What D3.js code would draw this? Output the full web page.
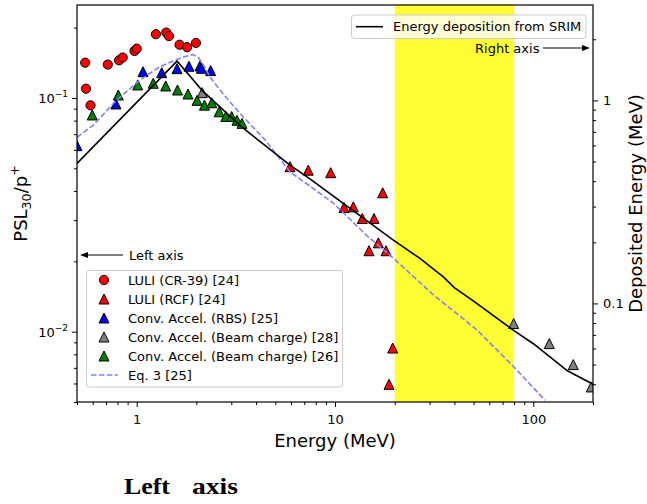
<!DOCTYPE html>
<html>
<head>
<meta charset="utf-8">
<script src="https://cdn.jsdelivr.net/npm/d3@7"></script>
<style>
body { margin: 0; background: #fff; }
svg { display: block; font-family: "DejaVu Sans", sans-serif; }
</style>
</head>
<body>
<svg id="chart" width="647" height="504"></svg>
<script>
const plot = { left: 77, right: 593, top: 5, bottom: 402 };

// LULI (CR-39) [24]
const cr39Energy = [0.55, 0.555, 0.585, 0.715, 0.815, 0.85, 0.975, 1.0, 1.25, 1.41, 1.455, 1.645, 1.795, 1.99];
const cr39Psl = [0.1416, 0.1096, 0.093, 0.139, 0.145, 0.149, 0.159, 0.1626, 0.1875, 0.1905, 0.184, 0.169, 0.165, 0.172];

// LULI (RCF) [24]
const rcfEnergy = [5.93, 7.33, 9.51, 11.1, 12.37, 13.73, 15.73, 17.4, 16.54, 14.84, 18.08, 19.54, 18.73];
const rcfPsl = [0.0508, 0.0491, 0.0479, 0.034, 0.0342, 0.0305, 0.0305, 0.0393, 0.024, 0.0222, 0.0222, 0.00851, 0.00595];

// Conv. Accel. (RBS) [25]
const rbsEnergy = [0.5, 0.786, 1.076, 1.337, 1.597, 1.835, 2.085, 2.12, 2.36];
const rbsPsl = [0.0625, 0.0943, 0.1296, 0.1283, 0.1335, 0.1367, 0.1371, 0.134, 0.131];

// Conv. Accel. (Beam charge) [28]
const bc28Energy = [2.14, 79.6, 120.4, 159, 196];
const bc28Psl = [0.1054, 0.01083, 0.00889, 0.00723, 0.0058];

// Conv. Accel. (Beam charge) [26]
const bc26Energy = [0.597, 0.808, 1.012, 1.212, 1.40, 1.606, 1.814, 2.015, 2.197, 2.392, 2.606, 2.814, 3.013, 3.205, 3.397];
const bc26Psl = [0.0846, 0.103, 0.1137, 0.1156, 0.1126, 0.1082, 0.104, 0.0977, 0.0932, 0.0954, 0.0873, 0.0833, 0.0833, 0.0803, 0.0779];

// Eq. 3 [25]
const eqEnergy = [0.5, 0.604, 0.793, 1.039, 1.31, 1.653, 1.752, 1.922, 2.038, 2.16, 2.343, 2.63, 2.954, 3.45, 4.44, 5.93, 9.77, 14.5, 19.68, 31.3, 51.8, 79.3, 114.5];
const eqPsl = [0.0679, 0.0766, 0.098, 0.1194, 0.1362, 0.148, 0.1504, 0.1534, 0.1497, 0.1397, 0.1229, 0.1082, 0.0961, 0.0829, 0.0662, 0.0483, 0.0356, 0.02572, 0.02065, 0.01439, 0.0102, 0.0071, 0.00509];

// Energy deposition from SRIM (right axis, MeV)
const srimEnergy = [0.5, 1.597, 1.857, 2.127, 3.38, 5.93, 7.63, 11.0, 19.7, 26.8, 35.2, 40.1, 49.8, 79.2, 99.7, 147, 200];
const srimDeposit = [0.4895, 1.562, 1.317, 1.124, 0.741, 0.48, 0.405, 0.311, 0.205, 0.1666, 0.1352, 0.1193, 0.103, 0.0739, 0.0635, 0.0469, 0.0400];

// shaded band (MeV)
const bandRange = [20, 80];

const xMajor = [1, 10, 100];
const xMinor = [0.5, 0.6, 0.7, 0.8, 0.9, 2, 3, 4, 5, 6, 7, 8, 9, 20, 30, 40, 50, 60, 70, 80, 90, 200];
const leftMajor = [0.01, 0.1];
const leftMajorExp = ['\u22122', '\u22121'];
const leftMinor = [0.005, 0.006, 0.007, 0.008, 0.009, 0.02, 0.03, 0.04, 0.05, 0.06, 0.07, 0.08, 0.09, 0.2];
const rightMajor = [0.1, 1];
const rightMajorLabels = ['0.1', '1'];
const rightMinor = [0.04, 0.05, 0.06, 0.07, 0.08, 0.09, 0.2, 0.3, 0.4, 0.5, 0.6, 0.7, 0.8, 0.9, 2];

var markerSeries = [
    { label: 'LULI (CR-39) [24]', energy: cr39Energy, psl: cr39Psl, shape: 'circle', color: '#ff0000' },
    { label: 'LULI (RCF) [24]', energy: rcfEnergy, psl: rcfPsl, shape: 'triangle', color: '#ff0000' },
    { label: 'Conv. Accel. (RBS) [25]', energy: rbsEnergy, psl: rbsPsl, shape: 'triangle', color: '#0000ff' },
    { label: 'Conv. Accel. (Beam charge) [28]', energy: bc28Energy, psl: bc28Psl, shape: 'triangle', color: '#808080' },
    { label: 'Conv. Accel. (Beam charge) [26]', energy: bc26Energy, psl: bc26Psl, shape: 'triangle', color: '#008000' }
];

const triPath = 'M0,-5L5,5L-5,5Z';

var svg = d3.select('#chart');

var xScale = d3.scaleLog().domain([0.5, 200]).range([plot.left, plot.right]);
var yLeft = d3.scaleLog().domain([0.005, 0.25]).range([plot.bottom, plot.top]);
var yRight = d3.scaleLog().domain([0.0327, 2.95]).range([plot.bottom, plot.top]);

svg.append('defs').append('clipPath')
    .attr('id', 'plotClip')
    .append('rect')
    .attr('x', plot.left).attr('y', plot.top)
    .attr('width', plot.right - plot.left)
    .attr('height', plot.bottom - plot.top);

// yellow band
svg.append('rect')
    .attr('x', xScale(bandRange[0]))
    .attr('y', plot.top)
    .attr('width', xScale(bandRange[1]) - xScale(bandRange[0]))
    .attr('height', plot.bottom - plot.top)
    .attr('fill', '#ffff33');

var dataLayer = svg.append('g').attr('clip-path', 'url(#plotClip)');

function drawMarker(sel, shape, color) {
    if (shape == 'circle') {
        sel.append('circle').attr('r', 4.6)
            .attr('fill', color).attr('stroke', '#000').attr('stroke-width', 1);
    } else {
        sel.append('path').attr('d', triPath)
            .attr('fill', color).attr('stroke', '#000').attr('stroke-width', 1)
            .attr('stroke-linejoin', 'miter');
    }
}

markerSeries.forEach(s => {
    dataLayer.append('g').selectAll('g')
        .data(s.energy.map((e, i) => [e, s.psl[i]]))
        .join('g')
        .attr('transform', d => 'translate(' + xScale(d[0]) + ',' + yLeft(d[1]) + ')')
        .each(function () { drawMarker(d3.select(this), s.shape, s.color); });
});

// Eq. 3 dashed line
var eqLine = d3.line().x((d, i) => xScale(eqEnergy[i])).y(d => yLeft(d));
dataLayer.append('path')
    .attr('d', eqLine(eqPsl))
    .attr('fill', 'none')
    .attr('stroke', '#8080ff')
    .attr('stroke-width', 1.6)
    .attr('stroke-dasharray', '5.5,2.4');

// axes
function tickAxis(axis, values, size) {
    return axis.tickValues(values).tickSize(size).tickFormat('');
}

var xAxisG = svg.append('g').attr('transform', 'translate(0,' + plot.bottom + ')');
xAxisG.append('g').call(tickAxis(d3.axisBottom(xScale), xMinor, 3));
xAxisG.append('g').call(d3.axisBottom(xScale).tickValues(xMajor).tickSize(5).tickPadding(7.5).tickFormat(d3.format('d')));

var yLeftG = svg.append('g').attr('transform', 'translate(' + plot.left + ',0)');
yLeftG.append('g').call(tickAxis(d3.axisLeft(yLeft), leftMinor, 3));
yLeftG.append('g').call(tickAxis(d3.axisLeft(yLeft), leftMajor, 5));
leftMajor.forEach((v, i) => {
    var t = yLeftG.append('text')
        .attr('x', -9)
        .attr('y', yLeft(v) + 5)
        .attr('text-anchor', 'end')
        .attr('font-size', 13)
        .attr('fill', '#000');
    t.append('tspan').text('10');
    t.append('tspan').attr('dy', -5.5).attr('font-size', 9).text(leftMajorExp[i]);
});

var yRightG = svg.append('g').attr('transform', 'translate(' + plot.right + ',0)');
yRightG.append('g').call(tickAxis(d3.axisRight(yRight), rightMinor, 3));
yRightG.append('g').call(d3.axisRight(yRight).tickValues(rightMajor).tickSize(5).tickPadding(5)
    .tickFormat((d, i) => rightMajorLabels[i]));

svg.selectAll('.domain').remove();
svg.selectAll('.tick line').attr('stroke', '#000').attr('stroke-width', 1);
svg.selectAll('.tick text').attr('font-size', 13).attr('fill', '#000')
    .attr('font-family', '"DejaVu Sans", sans-serif');

// lower-left legend
var legend = svg.append('g');
legend.append('rect')
    .attr('x', 86.5).attr('y', 270.5).attr('width', 256).attr('height', 116.5)
    .attr('rx', 3)
    .attr('fill', '#fff').attr('fill-opacity', 0.8)
    .attr('stroke', '#cccccc').attr('stroke-width', 1);
markerSeries.forEach((s, i) => {
    var row = legend.append('g').attr('transform', 'translate(0,' + (280 + i * 19) + ')');
    drawMarker(row.append('g').attr('transform', 'translate(104,0)'), s.shape, s.color);
    row.append('text').attr('x', 128).attr('y', 4.7).attr('font-size', 13).text(s.label);
});
var eqRow = legend.append('g').attr('transform', 'translate(0,' + (280 + 5 * 19) + ')');
eqRow.append('line').attr('x1', 91).attr('x2', 118).attr('y1', 0).attr('y2', 0)
    .attr('stroke', '#8080ff').attr('stroke-width', 1.6).attr('stroke-dasharray', '5.5,2.4');
eqRow.append('text').attr('x', 128).attr('y', 4.7).attr('font-size', 13).text('Eq. 3 [25]');

// annotations
function arrow(x1, x2, y) {
    var dir = x2 > x1 ? 1 : -1;
    svg.append('line').attr('x1', x1).attr('x2', x2 - dir * 6).attr('y1', y).attr('y2', y)
        .attr('stroke', '#000').attr('stroke-width', 1.2);
    svg.append('path')
        .attr('d', 'M' + x2 + ',' + y + 'L' + (x2 - dir * 8) + ',' + (y - 3) + 'L' + (x2 - dir * 8) + ',' + (y + 3) + 'Z')
        .attr('fill', '#000');
}
arrow(123, 80, 255);
svg.append('text').attr('x', 129).attr('y', 259.5).attr('font-size', 13).text('Left axis');
arrow(543, 590, 48);
svg.append('text').attr('x', 475).attr('y', 52.5).attr('font-size', 13).text('Right axis');

// SRIM line on right axis
var srimLine = d3.line().x((d, i) => xScale(srimEnergy[i])).y(d => yRight(d));
svg.append('g').attr('clip-path', 'url(#plotClip)')
    .append('path')
    .attr('d', srimLine(srimDeposit))
    .attr('fill', 'none')
    .attr('stroke', '#000')
    .attr('stroke-width', 1.6)
    .attr('stroke-linejoin', 'round');

// upper-right legend
var legend2 = svg.append('g');
legend2.append('rect')
    .attr('x', 351.5).attr('y', 15).attr('width', 234.5).attr('height', 23.5)
    .attr('rx', 3)
    .attr('fill', '#fff').attr('fill-opacity', 0.8)
    .attr('stroke', '#cccccc').attr('stroke-width', 1);
legend2.append('line').attr('x1', 356).attr('x2', 383).attr('y1', 26.7).attr('y2', 26.7)
    .attr('stroke', '#000').attr('stroke-width', 1.6);
legend2.append('text').attr('x', 393).attr('y', 31.4).attr('font-size', 13).text('Energy deposition from SRIM');

// spines
svg.append('rect')
    .attr('x', plot.left).attr('y', plot.top)
    .attr('width', plot.right - plot.left).attr('height', plot.bottom - plot.top)
    .attr('fill', 'none').attr('stroke', '#000').attr('stroke-width', 1.2);

// axis labels
svg.append('text')
    .attr('x', (plot.left + plot.right) / 2).attr('y', 447)
    .attr('text-anchor', 'middle').attr('font-size', 18)
    .text('Energy (MeV)');

var yl = svg.append('text')
    .attr('transform', 'translate(27,' + ((plot.top + plot.bottom) / 2) + ') rotate(-90)')
    .attr('text-anchor', 'middle').attr('font-size', 18);
yl.append('tspan').text('PSL');
yl.append('tspan').attr('font-size', 12.6).attr('dy', 3.5).text('30');
yl.append('tspan').attr('dy', -3.5).text('/p');
yl.append('tspan').attr('font-size', 12.6).attr('dy', -8).text('+');

svg.append('text')
    .attr('transform', 'translate(642,' + ((plot.top + plot.bottom) / 2) + ') rotate(-90)')
    .attr('text-anchor', 'middle').attr('font-size', 18)
    .text('Deposited Energy (MeV)');

// bottom caption
svg.append('text').attr('x', 124).attr('y', 494)
    .attr('font-family', '"Liberation Serif", serif').attr('font-weight', 'bold').attr('font-size', 24)
    .attr('textLength', 46).attr('lengthAdjust', 'spacingAndGlyphs')
    .text('Left');
svg.append('text').attr('x', 192).attr('y', 494)
    .attr('font-family', '"Liberation Serif", serif').attr('font-weight', 'bold').attr('font-size', 24)
    .attr('textLength', 46).attr('lengthAdjust', 'spacingAndGlyphs')
    .text('axis');
</script>
</body>
</html>
